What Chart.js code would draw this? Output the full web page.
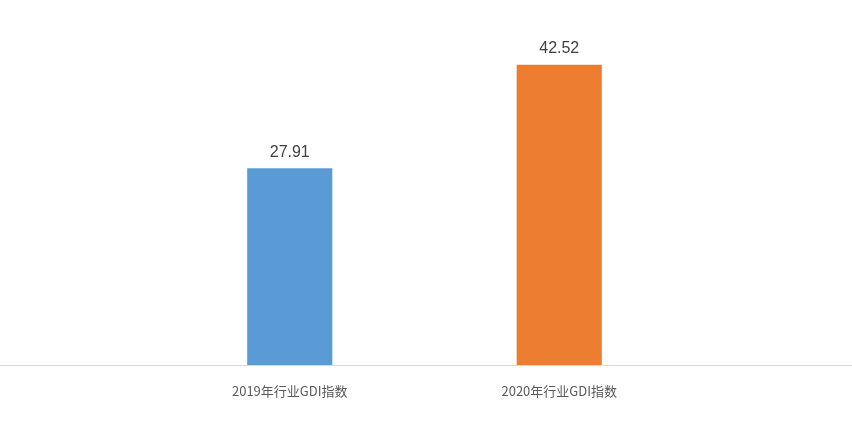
<!DOCTYPE html>
<html><head><meta charset="utf-8">
<script src="https://cdn.jsdelivr.net/npm/chart.js@4"></script>
<style>html,body{margin:0;padding:0;background:#fff}#w{width:852px;height:444px}</style>
</head><body><div id="w"><canvas id="c"></canvas></div>
<script>
const categories = ["2019年行业GDI指数", "2020年行业GDI指数"];
const values = [27.91, 42.52];
const colors = ["#5b9bd5", "#ed7d31"];

const labelsPlugin = {
  id: 'vals',
  afterDatasetsDraw(chart) {
    const ctx = chart.ctx;
    const meta = chart.getDatasetMeta(0);
    ctx.save();
    ctx.font = '16px "Liberation Sans", "Noto Sans CJK SC", sans-serif';
    ctx.fillStyle = '#404040';
    ctx.textAlign = 'center';
    ctx.textBaseline = 'bottom';
    meta.data.forEach((b, i) => ctx.fillText(values[i].toFixed(2), b.x, b.y - 8));
    // full-width baseline
    const y = chart.scales.y.getPixelForValue(0);
    ctx.strokeStyle = '#d9d9d9';
    ctx.lineWidth = 1;
    ctx.beginPath(); ctx.moveTo(0, Math.round(y) + 0.5); ctx.lineTo(852, Math.round(y) + 0.5); ctx.stroke();
    ctx.restore();
  }
};

new Chart(document.getElementById('c'), {
  type: 'bar',
  data: { labels: categories, datasets: [{ data: values, backgroundColor: colors, barPercentage: 0.316, categoryPercentage: 1 }] },
  options: {
    responsive: true, maintainAspectRatio: false, animation: false,
    layout: { padding: { left: 155, right: 158, top: 12, bottom: 27 } },
    plugins: { legend: { display: false }, tooltip: { enabled: false } },
    scales: {
      y: { display: false, min: 0, max: 50 },
      x: { grid: { display: false, drawTicks: false }, border: { display: false },
           ticks: { padding: 18, color: '#595959', font: { size: 13, family: '"Noto Sans CJK SC", sans-serif' } } }
    }
  },
  plugins: [labelsPlugin]
});
</script></body></html>
